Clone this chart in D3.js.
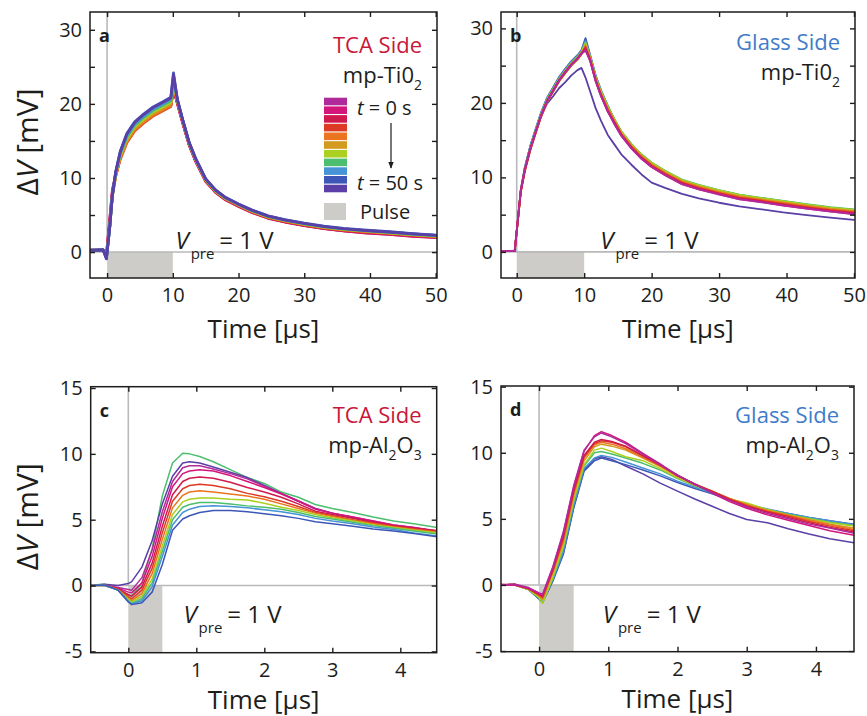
<!DOCTYPE html>
<html>
<head>
<meta charset="utf-8">
<script src="https://cdn.jsdelivr.net/npm/d3@7"></script>
<style>
  html, body { margin: 0; padding: 0; background: #fff; }
  svg { display: block; }
  text { font-family: "Open Sans", sans-serif; }
</style>
</head>
<body>
<svg id="chart" width="867" height="716"></svg>
<script>
// Colours of the successive traces, t = 0 s ... t = 50 s (one every 5 s)
const timeColors = ["#b12a9b", "#d3157c", "#d01a4f", "#dc3a24", "#ea741f", "#d49a20",
                    "#abd01f", "#4dbe6e", "#4693d6", "#3d57b8", "#5a3fa6"];

// ---- mp-TiO2, TCA side (panel a) ----
const tiTcaTime = [-2.5, -0.6, -0.1, 0.4, 0.8, 1.3, 2.0, 3.0, 4.2, 5.5, 7.0, 8.5, 9.7, 10.1, 10.7, 11.5,
                   12.5, 13.5, 15, 16.5, 18, 20, 22, 24.5, 27, 30, 33, 36, 39.5, 43, 46.5, 50];
const tiTcaSeries = [
  [0.2,0.25,-0.3,4.4,8.4,10.4,12.8,15.0,16.6,17.6,18.6,19.3,19.9,22.0,20.1,17.5,14.4,12.2,9.6,8.1,7.1,6.2,5.4,4.6,4.1,3.6,3.2,2.85,2.6,2.4,2.15,2.0],
  [0.2,0.3,-0.4,4.2,8.2,10.35,12.75,14.95,16.55,17.55,18.55,19.25,19.85,22.2,20.0,17.4,14.4,12.2,9.5,8.05,7.05,6.15,5.35,4.55,4.05,3.55,3.15,2.85,2.55,2.4,2.1,1.95],
  [0.25,0.2,-0.5,3.9,7.9,10.3,12.7,14.85,16.45,17.45,18.45,19.15,19.75,22.0,20.1,17.5,14.5,12.3,9.6,8.1,7.1,6.2,5.4,4.6,4.1,3.6,3.2,2.9,2.65,2.45,2.2,2.0],
  [0.2,0.25,-0.6,3.6,7.6,10.2,12.5,14.75,16.35,17.35,18.35,19.05,19.65,21.8,20.2,17.6,14.55,12.35,9.65,8.15,7.15,6.25,5.45,4.65,4.15,3.65,3.25,2.95,2.7,2.5,2.25,2.05],
  [0.2,0.3,-0.7,3.4,7.5,10.2,12.6,14.85,16.45,17.45,18.45,19.15,19.75,22.3,20.3,17.7,14.6,12.4,9.7,8.2,7.2,6.3,5.5,4.7,4.2,3.7,3.3,3.0,2.75,2.55,2.3,2.1],
  [0.25,0.3,-0.75,3.3,7.5,10.4,12.9,15.1,16.7,17.7,18.7,19.4,20.0,22.8,20.4,17.75,14.65,12.45,9.75,8.25,7.25,6.35,5.55,4.75,4.25,3.75,3.35,3.05,2.8,2.6,2.35,2.15],
  [0.2,0.3,-0.8,3.3,7.5,10.5,13.05,15.3,16.9,17.9,18.9,19.6,20.2,23.0,20.4,17.75,14.65,12.45,9.75,8.25,7.25,6.4,5.55,4.75,4.3,3.75,3.35,3.05,2.85,2.6,2.35,2.15],
  [0.25,0.3,-0.85,3.3,7.6,10.6,13.2,15.5,17.1,18.1,19.1,19.8,20.4,23.3,20.5,17.8,14.7,12.5,9.8,8.3,7.3,6.4,5.6,4.8,4.3,3.8,3.4,3.1,2.85,2.65,2.4,2.2],
  [0.2,0.3,-0.85,3.3,7.6,10.7,13.35,15.7,17.3,18.3,19.3,20.0,20.6,23.6,20.55,17.85,14.75,12.55,9.85,8.35,7.35,6.45,5.65,4.85,4.35,3.85,3.45,3.15,2.9,2.7,2.45,2.25],
  [0.25,0.3,-0.9,3.3,7.6,10.8,13.6,16.0,17.6,18.6,19.6,20.3,20.9,24.2,20.6,17.9,14.8,12.6,9.9,8.4,7.4,6.5,5.7,4.9,4.4,3.9,3.5,3.2,2.95,2.75,2.5,2.3],
  [0.25,0.3,-0.9,3.3,7.6,10.75,13.5,15.9,17.5,18.5,19.5,20.2,20.8,24.0,20.55,17.85,14.75,12.55,9.85,8.35,7.35,6.45,5.65,4.85,4.35,3.85,3.45,3.15,2.9,2.7,2.45,2.25]
];

// ---- mp-TiO2, glass side (panel b) ----
const tiGlassTime = [-2.2, -0.3, 0.2, 0.6, 1.2, 2.0, 2.8, 3.6, 4.5, 5.4, 6.3, 7.2, 8.1, 9.0, 9.6, 10.2, 10.9,
                     11.7, 12.5, 13.5, 14.5, 15.5, 17, 18.5, 20, 22, 24.5, 27, 30, 33, 36, 39.5, 43, 46.5, 50];
const tiGlassSeries = [
  [0.15,0.1,4.6,8.2,11.0,13.7,16.0,18.2,20.2,21.6,23.0,24.1,25.1,25.9,26.6,27.0,25.6,22.9,20.9,18.9,17.1,15.6,13.9,12.5,11.4,10.3,9.1,8.4,7.7,7.1,6.7,6.25,5.8,5.4,5.1],
  [0.1,0.15,4.7,8.2,11.1,13.8,16.1,18.3,20.3,21.7,23.1,24.2,25.2,26.0,26.7,27.2,25.6,22.9,20.9,18.8,17.2,15.6,13.9,12.5,11.4,10.3,9.1,8.4,7.75,7.05,6.75,6.2,5.8,5.45,5.05],
  [0.1,0.1,4.6,8.1,11.0,13.75,16.05,18.25,20.25,21.65,23.05,24.15,25.15,25.95,26.65,27.3,25.7,23.0,21.0,18.9,17.3,15.7,14.0,12.6,11.5,10.4,9.2,8.5,7.8,7.2,6.8,6.35,5.9,5.5,5.2],
  [0.1,0.1,4.5,8.1,10.9,13.7,16.0,18.2,20.2,21.6,23.0,24.1,25.1,25.9,26.6,27.5,25.8,23.1,21.1,19.1,17.4,15.8,14.1,12.7,11.6,10.5,9.3,8.6,7.9,7.3,6.9,6.45,6.0,5.6,5.3],
  [0.1,0.1,4.4,8.0,10.8,13.6,15.9,18.1,20.1,21.5,22.9,24.0,25.0,25.8,26.5,27.6,25.9,23.2,21.2,19.2,17.5,15.9,14.2,12.8,11.7,10.6,9.4,8.7,8.0,7.4,7.0,6.55,6.1,5.7,5.4],
  [0.1,0.1,4.4,8.0,10.8,13.6,15.9,18.1,20.1,21.5,22.9,24.0,25.0,25.8,26.5,27.8,26.0,23.3,21.3,19.3,17.6,16.0,14.3,12.9,11.8,10.7,9.5,8.8,8.1,7.5,7.1,6.65,6.2,5.8,5.5],
  [0.1,0.1,4.5,8.2,11.1,13.9,16.2,18.4,20.4,21.8,23.2,24.3,25.3,26.1,26.8,28.0,26.1,23.4,21.5,19.5,17.75,16.15,14.45,13.05,11.95,10.85,9.65,8.95,8.25,7.65,7.25,6.8,6.35,5.95,5.65],
  [0.1,0.1,4.5,8.2,11.2,14.0,16.3,18.5,20.5,21.9,23.3,24.4,25.4,26.2,26.9,28.1,26.2,23.5,21.6,19.6,17.8,16.2,14.5,13.1,12.0,10.9,9.7,9.0,8.3,7.7,7.3,6.85,6.4,6.0,5.7],
  [0.1,0.1,4.5,8.3,11.25,14.1,16.4,18.6,20.6,22.0,23.4,24.5,25.5,26.3,27.0,28.3,26.3,23.6,21.65,19.6,17.75,16.15,14.45,13.05,11.95,10.85,9.65,8.95,8.25,7.65,7.25,6.8,6.35,5.95,5.65],
  [0.1,0.1,4.5,8.3,11.3,14.2,16.5,18.7,20.7,22.1,23.5,24.6,25.6,26.4,27.1,28.7,26.4,23.7,21.7,19.6,17.7,16.1,14.4,13.0,11.9,10.8,9.6,8.9,8.2,7.6,7.2,6.75,6.3,5.9,5.6],
  [0.1,0.1,4.5,8.3,11.3,14.1,16.3,18.2,19.9,20.9,22.0,22.8,23.7,24.4,24.7,23.4,21.5,19.3,17.6,15.7,14.4,13.1,11.7,10.4,9.3,8.6,7.8,7.2,6.6,6.1,5.75,5.3,4.95,4.6,4.3]
];

// ---- mp-Al2O3, both sides (panels c and d) share one time base ----
const alTime = [-0.55, -0.35, -0.15, 0, 0.05, 0.2, 0.35, 0.5, 0.65, 0.8, 0.9, 1.05, 1.25, 1.5, 1.75,
                2.0, 2.25, 2.5, 2.75, 3.0, 3.3, 3.6, 3.9, 4.2, 4.55];
const alTcaSeries = [
  [0.05,0.1,-0.3,-0.7,-0.8,0.2,2.8,6.8,9.3,10.05,10.0,9.8,9.4,8.8,8.2,7.75,7.1,6.7,6.15,5.85,5.55,5.2,4.9,4.7,4.4],
  [0.0,0.1,0.0,0.15,0.3,1.4,3.4,6.2,8.3,9.3,9.4,9.3,9.0,8.6,8.2,7.6,7.0,6.4,5.85,5.5,5.15,4.85,4.55,4.35,4.0],
  [0.0,0.05,-0.15,-0.3,-0.35,0.6,2.7,5.6,7.9,8.95,9.1,9.1,8.85,8.5,8.1,7.55,7.0,6.45,5.85,5.5,5.2,4.9,4.6,4.4,4.1],
  [0.05,0.0,-0.2,-0.5,-0.55,0.2,2.2,5.1,7.5,8.5,8.7,8.8,8.7,8.35,7.9,7.45,6.95,6.4,5.8,5.5,5.2,4.9,4.6,4.4,4.15],
  [0.0,0.05,-0.25,-0.7,-0.8,-0.1,1.7,4.5,6.9,7.9,8.15,8.25,8.15,7.85,7.45,7.1,6.7,6.2,5.65,5.4,5.1,4.8,4.55,4.35,4.15],
  [0.0,0.0,-0.3,-0.85,-1.0,-0.35,1.3,4.0,6.4,7.35,7.6,7.7,7.6,7.35,7.0,6.75,6.4,6.0,5.55,5.3,5.0,4.75,4.5,4.3,4.1],
  [0.0,0.05,-0.3,-0.95,-1.15,-0.6,0.9,3.5,5.9,6.85,7.1,7.2,7.1,6.95,6.8,6.55,6.2,5.85,5.5,5.25,4.95,4.7,4.45,4.25,4.05],
  [0.0,0.0,-0.35,-1.05,-1.25,-0.8,0.5,3.0,5.4,6.35,6.55,6.65,6.65,6.55,6.5,6.25,5.95,5.7,5.4,5.15,4.9,4.6,4.4,4.2,4.0],
  [0.0,0.05,-0.35,-1.15,-1.35,-1.0,0.2,2.6,5.0,5.95,6.15,6.3,6.3,6.2,6.05,5.95,5.8,5.55,5.25,5.05,4.8,4.55,4.35,4.15,3.9],
  [0.0,0.0,-0.35,-1.2,-1.4,-1.15,-0.1,2.2,4.6,5.55,5.8,6.0,6.05,6.0,5.9,5.75,5.6,5.4,5.1,4.9,4.7,4.45,4.25,4.0,3.75],
  [0.0,0.05,-0.35,-1.25,-1.45,-1.3,-0.5,1.6,4.2,5.05,5.3,5.55,5.7,5.7,5.6,5.45,5.3,5.1,4.85,4.7,4.5,4.3,4.15,3.95,3.7]
];
const alTcaColorIndex = [7, 10, 0, 1, 2, 3, 4, 6, 7, 8, 9];

const alGlassSeries = [
  [0.0,0.05,-0.2,-0.6,-0.7,1.4,4.0,7.5,10.2,11.2,11.5,11.2,10.7,9.9,9.1,8.3,7.6,7.0,6.4,5.9,5.4,5.0,4.6,4.3,3.9],
  [0.0,0.0,-0.25,-0.65,-0.8,1.3,3.9,7.4,10.1,11.3,11.6,11.3,10.8,9.95,9.15,8.25,7.65,6.95,6.3,5.8,5.3,4.9,4.5,4.1,3.75],
  [0.05,0.0,-0.25,-0.7,-0.85,1.2,3.7,7.2,9.8,10.8,11.0,10.85,10.5,9.8,9.1,8.3,7.6,7.05,6.45,5.95,5.5,5.1,4.7,4.35,4.0],
  [0.0,0.05,-0.3,-0.75,-0.95,1.1,3.5,7.0,9.7,10.7,10.9,10.8,10.45,9.75,9.05,8.3,7.65,7.1,6.5,6.0,5.55,5.2,4.8,4.45,4.1],
  [0.0,0.0,-0.3,-0.8,-1.0,1.0,3.4,6.9,9.6,10.6,10.8,10.65,10.3,9.65,9.0,8.25,7.6,7.1,6.55,6.05,5.6,5.25,4.9,4.55,4.2],
  [0.0,0.05,-0.3,-0.85,-1.1,0.9,3.2,6.7,9.4,10.45,10.65,10.5,10.2,9.6,8.95,8.2,7.6,7.1,6.55,6.1,5.65,5.3,4.95,4.6,4.3],
  [0.0,0.0,-0.35,-0.95,-1.4,0.6,2.9,6.4,9.1,10.2,10.35,10.1,9.7,9.4,8.8,8.1,7.55,7.05,6.5,6.2,5.7,5.3,5.0,4.7,4.45],
  [0.0,0.0,-0.35,-1.0,-1.3,0.5,2.8,6.3,9.0,10.0,10.1,9.9,9.6,9.2,8.7,8.05,7.5,7.0,6.5,6.1,5.7,5.35,5.05,4.75,4.5],
  [0.0,0.0,-0.35,-1.0,-1.25,0.4,2.5,6.0,8.8,9.6,9.8,9.65,9.3,8.85,8.4,7.85,7.4,6.95,6.5,6.1,5.75,5.4,5.1,4.85,4.55],
  [0.0,0.05,-0.35,-1.05,-1.35,0.3,2.3,5.8,8.6,9.4,9.6,9.4,9.1,8.7,8.25,7.75,7.3,6.9,6.45,6.05,5.7,5.4,5.1,4.85,4.6],
  [0.0,0.0,-0.35,-1.05,-1.3,0.35,2.4,5.9,8.7,9.55,9.7,9.5,9.0,8.4,7.7,7.1,6.5,5.95,5.4,4.95,4.7,4.25,3.85,3.5,3.2]
];
const alGlassColorIndex = [0, 1, 2, 3, 4, 5, 6, 7, 8, 9, 10];

// Axis ticks and labels
const tiYTicks = [0, 5, 10, 15, 20, 25, 30];
const tiYLabels = [0, 10, 20, 30];
const tiXTicks = [0, 10, 20, 30, 40, 50];
const alYTicks = [-5, 0, 5, 10, 15];
const alXTicks = [0, 1, 2, 3, 4];

// Pulse durations (µs)
const tiPulseEnd = 10;
const alPulseEnd = 0.5;

const svg = d3.select("#chart");
const ink = "#1d1d1b";

function drawPanel(cfg) {
  const x = d3.scaleLinear().domain(cfg.xDomain).range([cfg.left, cfg.right]);
  const y = d3.scaleLinear().domain(cfg.yDomain).range([cfg.bottom, cfg.top]);
  const g = svg.append("g");

  const clipId = "clip-" + cfg.id;
  svg.append("clipPath").attr("id", clipId).append("rect")
    .attr("x", cfg.left).attr("y", cfg.top)
    .attr("width", cfg.right - cfg.left).attr("height", cfg.bottom - cfg.top);

  // pulse window
  g.append("rect")
    .attr("x", x(0)).attr("y", y(0))
    .attr("width", x(cfg.pulseEnd) - x(0))
    .attr("height", cfg.bottom - y(0))
    .attr("fill", "#cdccc8");

  // zero guides
  g.append("line")
    .attr("x1", cfg.left).attr("x2", cfg.right).attr("y1", y(0)).attr("y2", y(0))
    .attr("stroke", "#b9b9b9").attr("stroke-width", 1.6);
  g.append("line")
    .attr("x1", x(0)).attr("x2", x(0)).attr("y1", cfg.top).attr("y2", y(0))
    .attr("stroke", "#b9b9b9").attr("stroke-width", 1.6);

  // traces
  const line = d3.line().x((d, i) => x(cfg.time[i])).y(d => y(d));
  const order = cfg.series.map((s, i) => i);
  if (cfg.reverse) order.reverse();
  const traces = g.append("g").attr("clip-path", `url(#${clipId})`);
  order.forEach(i => {
    traces.append("path")
      .attr("d", line(cfg.series[i]))
      .attr("fill", "none")
      .attr("stroke", timeColors[cfg.colorIndex[i]])
      .attr("stroke-width", cfg.lineWidth)
      .attr("stroke-linejoin", "round")
      .attr("stroke-linecap", "round");
  });

  // axes with inward ticks on all four sides
  const styleAxis = a => {
    a.select(".domain").remove();
    a.selectAll(".tick line").attr("stroke", ink).attr("stroke-width", 1.4);
    a.selectAll(".tick text").filter(function () { return this.textContent === ""; }).remove();
    a.selectAll("text").attr("font-family", "Open Sans").attr("font-size", 20).attr("fill", ink);
  };
  g.append("g").attr("transform", `translate(${cfg.left},0)`)
    .call(d3.axisLeft(y).tickValues(cfg.yTicks).tickSize(-5).tickSizeOuter(0).tickPadding(8)
      .tickFormat(v => cfg.yLabels.includes(v) ? String(v) : ""))
    .call(styleAxis);
  g.append("g").attr("transform", `translate(${cfg.right},0)`)
    .call(d3.axisRight(y).tickValues(cfg.yTicks).tickSize(-5).tickSizeOuter(0).tickFormat(""))
    .call(styleAxis);
  g.append("g").attr("transform", `translate(0,${cfg.bottom})`)
    .call(d3.axisBottom(x).tickValues(cfg.xTicks).tickSize(-5).tickSizeOuter(0).tickPadding(10)
      .tickFormat(v => String(v)))
    .call(styleAxis);
  g.append("g").attr("transform", `translate(0,${cfg.top})`)
    .call(d3.axisTop(x).tickValues(cfg.xTicks).tickSize(-5).tickSizeOuter(0).tickFormat(""))
    .call(styleAxis);

  // frame
  g.append("rect")
    .attr("x", cfg.left).attr("y", cfg.top)
    .attr("width", cfg.right - cfg.left).attr("height", cfg.bottom - cfg.top)
    .attr("fill", "none").attr("stroke", ink).attr("stroke-width", 1.5);

  // panel letter
  g.append("text").attr("x", cfg.left + 9).attr("y", cfg.top + 30)
    .attr("font-size", 18).attr("font-weight", 700).attr("fill", ink).text(cfg.letter);

  // side label and material
  g.append("text").attr("x", cfg.right - 15).attr("y", cfg.top + cfg.sideDy)
    .attr("text-anchor", "end").attr("font-size", 22).attr("fill", cfg.sideColor).text(cfg.side);
  const mat = g.append("text").attr("x", cfg.right - 15).attr("y", cfg.top + cfg.sideDy + 30)
    .attr("text-anchor", "end").attr("font-size", 22).attr("fill", ink);
  cfg.material.forEach((part, k) => {
    if (part.sub) {
      mat.append("tspan").attr("font-size", 14).attr("dy", 7).text(part.text);
    } else {
      mat.append("tspan").attr("dy", k > 0 ? -7 : 0).text(part.text);
    }
  });

  // precondition voltage label
  const vp = g.append("text").attr("x", x(cfg.vpreAt[0])).attr("y", y(cfg.vpreAt[1]))
    .attr("font-size", 24).attr("fill", ink);
  vp.append("tspan").attr("font-style", "italic").text("V");
  vp.append("tspan").attr("font-size", 15).attr("dx", 2).attr("dy", 10).text("pre");
  vp.append("tspan").attr("dx", 5).attr("dy", -10).text("= 1 V");

  // axis titles
  g.append("text")
    .attr("x", (cfg.left + cfg.right) / 2).attr("y", cfg.bottom + cfg.xTitleDy)
    .attr("text-anchor", "middle").attr("font-size", 26).attr("fill", ink)
    .text("Time [\u03bcs]");
  if (cfg.yTitle) {
    const yt = g.append("text")
      .attr("transform", `translate(38,${(cfg.top + cfg.bottom) / 2 - 3}) rotate(-90)`)
      .attr("text-anchor", "middle").attr("font-size", 30).attr("fill", ink);
    yt.append("tspan").text("\u0394");
    yt.append("tspan").attr("font-style", "italic").text("V");
    yt.append("tspan").text(" [mV]");
  }
  return { x, y, g };
}

const tiMaterial = [{ text: "mp-Ti0" }, { text: "2", sub: true }];
const alMaterial = [{ text: "mp-Al" }, { text: "2", sub: true }, { text: "O" }, { text: "3", sub: true }];

drawPanel({
  id: "a", letter: "a", left: 90, right: 437, top: 12, bottom: 278,
  xDomain: [-2.6, 50.2], yDomain: [-3.5, 32.4],
  time: tiTcaTime, series: tiTcaSeries, colorIndex: d3.range(11), lineWidth: 2.7,
  yTicks: tiYTicks, yLabels: tiYLabels, xTicks: tiXTicks, pulseEnd: tiPulseEnd,
  side: "TCA Side", sideColor: "#c8173a", sideDy: 41, material: tiMaterial,
  vpreAt: [10.4, 0.4], xTitleDy: 60, yTitle: true
});
drawPanel({
  id: "b", letter: "b", left: 501, right: 855, top: 12, bottom: 278,
  xDomain: [-2.33, 50.15], yDomain: [-3.5, 32.2],
  time: tiGlassTime, series: tiGlassSeries, colorIndex: d3.range(11), lineWidth: 1.8, reverse: true,
  yTicks: tiYTicks, yLabels: tiYLabels, xTicks: tiXTicks, pulseEnd: tiPulseEnd,
  side: "Glass Side", sideColor: "#3f7cc9", sideDy: 38, material: tiMaterial,
  vpreAt: [12.4, 0.4], xTitleDy: 60, yTitle: false
});
drawPanel({
  id: "c", letter: "c", left: 90.7, right: 436.7, top: 386.7, bottom: 652.7,
  xDomain: [-0.553, 4.535], yDomain: [-5.1, 15.1],
  time: alTime, series: alTcaSeries, colorIndex: alTcaColorIndex, lineWidth: 1.5,
  yTicks: alYTicks, yLabels: alYTicks, xTicks: alXTicks, pulseEnd: alPulseEnd,
  side: "TCA Side", sideColor: "#c8173a", sideDy: 36, material: alMaterial,
  vpreAt: [0.81, -2.85], xTitleDy: 56, yTitle: true
});
drawPanel({
  id: "d", letter: "d", left: 501, right: 854, top: 386, bottom: 651.7,
  xDomain: [-0.55, 4.55], yDomain: [-5.05, 15.05],
  time: alTime, series: alGlassSeries, colorIndex: alGlassColorIndex, lineWidth: 1.5, reverse: true,
  yTicks: alYTicks, yLabels: alYTicks, xTicks: alXTicks, pulseEnd: alPulseEnd,
  side: "Glass Side", sideColor: "#3f7cc9", sideDy: 37, material: alMaterial,
  vpreAt: [0.92, -2.85], xTitleDy: 56, yTitle: false
});

// legend of panel a: one swatch per 5 s step plus the pulse window
const legend = svg.append("g");
const swatchTop = 97.7, swatchStep = 8.7;
timeColors.forEach((c, i) => {
  legend.append("rect")
    .attr("x", 324).attr("y", swatchTop + i * swatchStep)
    .attr("width", 23).attr("height", swatchStep - 1.1)
    .attr("fill", c);
});
legend.append("rect").attr("x", 324).attr("y", 203).attr("width", 22).attr("height", 17).attr("fill", "#cdccc8");

const tLabel = (txt, yPos) => {
  const t = legend.append("text").attr("x", 357).attr("y", yPos).attr("font-size", 20).attr("fill", ink);
  t.append("tspan").attr("font-style", "italic").text("t");
  t.append("tspan").text(" = " + txt);
};
tLabel("0 s", 115);
tLabel("50 s", 190);
legend.append("text").attr("x", 360).attr("y", 219).attr("font-size", 20).attr("fill", ink).text("Pulse");

svg.append("defs").append("marker")
  .attr("id", "arrowhead").attr("viewBox", "0 0 10 10").attr("refX", 9).attr("refY", 5)
  .attr("markerWidth", 6).attr("markerHeight", 7).attr("orient", "auto")
  .append("path").attr("d", "M0,1 L10,5 L0,9 z").attr("fill", ink);
legend.append("line")
  .attr("x1", 391).attr("x2", 391).attr("y1", 123).attr("y2", 168)
  .attr("stroke", ink).attr("stroke-width", 1.2).attr("marker-end", "url(#arrowhead)");
</script>
</body>
</html>
